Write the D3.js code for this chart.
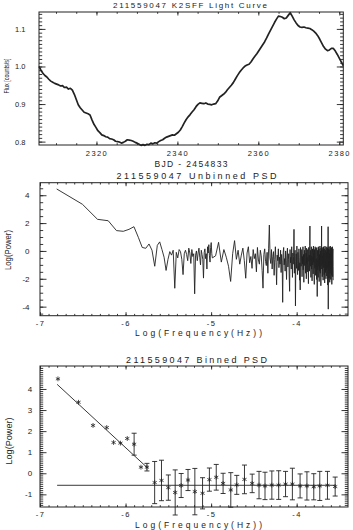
<!DOCTYPE html>
<html>
<head>
<meta charset="utf-8">
<script src="https://cdn.jsdelivr.net/npm/d3@7"></script>
<style>
body { margin: 0; background: #fff; }
svg { display: block; }
text { font-family: "Liberation Sans", Arial, sans-serif; fill: #222; }
</style>
</head>
<body>
<svg width="353" height="530"></svg>
<script>

// ---- light curve: flux (counts/s, normalised), one sample every lcStep days from lcStart
var lcStart = 2305.8, lcStep = 0.485;
var lcFlux = [
  1.000, 0.990, 0.982, 0.976, 0.972, 0.966, 0.961, 0.958, 0.955, 0.953,
  0.951, 0.948, 0.949, 0.944, 0.945, 0.940, 0.942, 0.937, 0.926, 0.912,
  0.898, 0.890, 0.884, 0.878, 0.876, 0.874, 0.871, 0.858, 0.846, 0.838,
  0.829, 0.824, 0.818, 0.816, 0.813, 0.812, 0.808, 0.807, 0.805, 0.801,
  0.800, 0.799, 0.796, 0.798, 0.801, 0.805, 0.804, 0.803, 0.801, 0.798,
  0.796, 0.793, 0.790, 0.792, 0.790, 0.793, 0.792, 0.796, 0.794, 0.797,
  0.796, 0.800, 0.803, 0.805, 0.809, 0.812, 0.814, 0.816, 0.818, 0.817,
  0.821, 0.825, 0.831, 0.840, 0.850, 0.859, 0.866, 0.872, 0.879, 0.885,
  0.893, 0.899, 0.903, 0.902, 0.901, 0.903, 0.900, 0.899, 0.898, 0.900,
  0.901, 0.908, 0.918, 0.922, 0.926, 0.931, 0.938, 0.944, 0.950, 0.957,
  0.966, 0.975, 0.983, 0.990, 0.996, 1.001, 1.004, 1.006, 1.012, 1.020,
  1.027, 1.034, 1.042, 1.050, 1.058, 1.066, 1.076, 1.087, 1.097, 1.107,
  1.117, 1.126, 1.134, 1.133, 1.131, 1.127, 1.129, 1.136, 1.143, 1.134,
  1.124, 1.116, 1.109, 1.105, 1.104, 1.105, 1.103, 1.102, 1.101, 1.098,
  1.094, 1.089, 1.082, 1.073, 1.063, 1.053, 1.046, 1.042, 1.044, 1.048,
  1.048, 1.041, 1.032, 1.022, 1.012, 1.002
];
var lcTicks = [2320, 2340, 2360, 2380];
var lcFluxTicks = [0.8, 0.9, 1.0, 1.1];

// ---- unbinned PSD: log power at harmonics k of the base frequency
var psdBaseLogF = -6.805;
// k = 1 .. 66
var psdLowPow = [
  4.45, 3.35, 2.27, 2.17, 1.46, 1.41, 1.55, 1.74, 0.98, 0.25,
  0.19, 0.50, 0.05, -1.10, 0.40, 0.65, 0.10, -0.45, -1.40, -0.60,
  -0.05, -0.30, 0.05, -2.68, -0.10, -0.50, 0.10, -0.05, -0.60, -1.70,
  -0.20, 0.05, -0.25, -0.70, 0.20, -0.15, -0.90, 0.10, -0.40, -0.20,
  -3.08, -0.30, 0.00, -0.70, -0.15, 0.20, -0.45, -1.00, 0.05, -0.25,
  -0.60, -1.95, -0.10, 0.15, -0.55, -0.20, -1.30, 0.30, -0.15, 0.45,
  -0.35, -0.80, 0.25, 0.60, -0.20, -0.50
];
// k = 72, 78, 84 ... (every 6th harmonic)
var psdHighK0 = 72, psdHighStride = 6;
var psdHighPow = [
  -0.35, 0.62, -0.80, 0.10, -0.45, -1.10, -2.19, -0.20, 0.74, -0.60,
  0.05, -0.95, -0.30, 0.20, -0.70, -1.96, -0.15, 0.30, -0.85, -0.40,
  -1.25, 0.10, -0.55, -0.20, -1.50, 0.25, -0.65, -0.95, 0.05, -0.35,
  -1.40, -2.67, -0.25, 0.15, -0.75, -1.05, -0.10, -1.60, 0.20, 1.86,
  -0.50, -0.90, 0.10, -1.30, -0.40, -0.05, -1.75, -0.60, 0.30, -0.85,
  -2.43, -0.30, -0.70, 0.15, -1.20, -0.45, -0.95, 0.05, -1.55, -0.25,
  -0.80, -3.69, -0.10, 0.25, -1.00, -0.55, -1.45, 0.00, -0.70, -2.05,
  -0.35, 0.20, -1.15, -0.60, -0.20, -1.80, -2.90, 0.10, -0.85, -0.45,
  -1.30, 0.30, -0.65, -1.90, -0.15, -0.95, -0.40, 1.55, -1.60, -0.30,
  0.05, -3.95, -0.75, -0.20, -1.25, 0.35, -0.90, -1.70, -0.10, -0.60,
  -1.40, 0.15, -0.50, -2.10, -0.85, -2.80, 0.25, -0.35, -1.10, -0.65,
  0.10, -1.85, -0.40, -0.95, 0.30, -1.35, -0.25, -2.25, -0.70, 0.05,
  -1.05, -0.50, 0.35, -1.60, -0.80, -0.15, -2.00, 0.20, -0.90, -0.45,
  -1.50, 0.10, -0.60, -1.20, -2.35, 0.25, -0.75, -0.30, -1.45, 0.40,
  1.79, -0.85, -1.10, 0.05, -1.90, -0.55, 0.30, -1.30, -0.35, -2.15,
  -0.70, 0.15, -1.00, -0.45, -1.65, 0.35, -0.80, -0.20, -1.40, -2.40,
  0.10, -0.60, -1.25, 0.30, -0.95, -1.75, -0.30, 0.20, -1.15, -0.55,
  -2.05, 0.25, -0.85, -3.27, -0.40, 0.05, -1.35, -0.70, -1.90, 0.30,
  -0.50, -1.10, 0.15, -2.20, -0.65, -0.25, -1.45, 0.35, -0.90, -1.60,
  0.00, -0.75, -2.50, 0.20, -1.05, -0.40, 1.79, -1.30, -0.60, 0.10,
  -1.85, -0.35, -0.95, 0.25, -1.50, -2.10, -0.20, 0.30, -1.20, -0.70,
  -0.15, -1.70, 0.15, -0.85, -2.30, -0.45, 0.35, -1.05, -0.60, -1.55,
  0.05, -0.90, -2.00, 0.25, -0.50, -1.35, -0.10, -1.80, 0.30, -0.75,
  -1.25, -0.30, 0.20, -2.45, -0.65, -1.10, 1.74, -4.18, -0.40, 0.15,
  -1.40, -0.80, -1.95, 0.30, -0.55, -1.15, -0.20, -2.25, 0.10, -0.90,
  -1.60, 0.35, -0.45, -1.05, -2.05, 0.20, -0.70, -1.30, -0.25, 0.25,
  -1.75, -0.60, -2.40, 0.05, -0.95, -1.20, 0.30, -0.50, -1.85, -0.35,
  0.15, -1.10, -2.10
];
var psdTicksX = [-7, -6, -5, -4];
var psdTicksY = [-4, -2, 0, 2, 4];

// ---- binned PSD
var binLogF = [-6.79, -6.55, -6.38, -6.22, -6.14, -6.06, -5.98, -5.90, -5.82, -5.75,
  -5.66, -5.58, -5.50, -5.42, -5.35, -5.27, -5.19, -5.10, -5.02, -4.94,
  -4.86, -4.77, -4.70, -4.61, -4.52, -4.44, -4.37, -4.29, -4.21, -4.13,
  -4.05, -3.96, -3.88, -3.80, -3.73, -3.64, -3.55];
var binPow = [4.48, 3.37, 2.27, 2.17, 1.46, 1.43, 1.65, 1.38, 0.29, 0.29,
  -0.44, -0.34, -0.68, -0.91, -0.58, -0.32, -0.87, -0.95, -0.30, -0.19,
  -0.48, -0.79, -0.55, -0.29, -0.48, -0.56, -0.60, -0.56, -0.56, -0.51,
  -0.51, -0.60, -0.60, -0.64, -0.60, -0.57, -0.63];
var binErr = [0, 0, 0, 0, 0, 0, 0, 0.52, 0, 0.18,
  1.00, 0.96, 0.60, 1.07, 0.57, 0.50, 1.10, 0.74, 0.55, 0.61,
  0.48, 0.82, 0.45, 0.68, 0.44, 0.65, 0.65, 0.67, 0.68, 0.60,
  0.75, 0.57, 0.67, 0.62, 0.69, 0.66, 0.45];
var fitLogF = [-6.80, -5.75], fitPow = [4.22, 0.28];
var noiseLogF = [-6.80, -3.55], noisePow = -0.57;
var binTicksY = [-1, 0, 1, 2, 3, 4];

var svg = d3.select("svg");
var ink = "#222";
var plain = function(d) { return String(d); };

// IDL style box: inward ticks on all four sides, labels bottom and left
function drawBox(p) {
  var g = svg.append("g");
  var x = p.x, y = p.y;
  var r = x.range(), h = y.range();
  var left = r[0], right = r[1], bottom = h[0], top = h[1];

  g.append("rect").attr("x", left).attr("y", top)
    .attr("width", right - left).attr("height", bottom - top)
    .attr("fill", "none").attr("stroke", ink).attr("stroke-width", 1);

  var sides = [
    [d3.axisBottom, x, bottom, true], [d3.axisTop, x, top, false]
  ];
  sides.forEach(function(s) {
    var major = s[0](s[1]).tickValues(p.xMajor).tickSize(-3.5)
      .tickPadding(p.xPad).tickFormat(s[3] ? p.xFmt : "");
    var minor = s[0](s[1]).tickValues(p.xMinor).tickSize(-1.8).tickFormat("");
    var a = g.append("g").attr("transform", "translate(0," + s[2] + ")").call(major);
    g.append("g").attr("transform", "translate(0," + s[2] + ")").call(minor);
    a.selectAll("text").attr("font-size", 7.5).style("letter-spacing", p.xSpace + "px");
  });

  var vsides = [
    [d3.axisLeft, left, true], [d3.axisRight, right, false]
  ];
  vsides.forEach(function(s) {
    var major = s[0](y).tickValues(p.yMajor).tickSize(-6.5)
      .tickPadding(p.yPad).tickFormat(s[2] ? p.yFmt : "");
    var minor = s[0](y).tickValues(p.yMinor).tickSize(-3.2).tickFormat("");
    var a = g.append("g").attr("transform", "translate(" + s[1] + ",0)").call(major);
    g.append("g").attr("transform", "translate(" + s[1] + ",0)").call(minor);
    a.selectAll("text").attr("font-size", p.ySize);
  });

  g.selectAll(".domain").remove();
  g.selectAll(".tick line").attr("stroke", ink).attr("stroke-width", 0.9);
  g.selectAll(".tick text").attr("fill", ink);

  // titles: horizontal ones spread out, the vertical one squeezed
  g.append("text").attr("x", p.title[1]).attr("y", p.title[2])
    .attr("text-anchor", "middle").attr("font-size", p.title[3])
    .attr("textLength", p.title[4]).attr("lengthAdjust", "spacing")
    .text(p.title[0]);
  g.append("text").attr("x", p.xTitle[1]).attr("y", p.xTitle[2])
    .attr("text-anchor", "middle").attr("font-size", p.xTitle[3])
    .attr("textLength", p.xTitle[4]).attr("lengthAdjust", "spacing")
    .text(p.xTitle[0]);
  g.append("text")
    .attr("transform", "translate(" + p.yTitle[1] + "," + p.yTitle[2] + ") rotate(-90)")
    .attr("text-anchor", "middle").attr("dy", "0.35em").attr("font-size", p.yTitle[3])
    .attr("textLength", p.yTitle[4]).attr("lengthAdjust", "spacingAndGlyphs")
    .text(p.yTitle[0]);
  return g;
}

// ---------- panel 1: light curve
var x1 = d3.scaleLinear().domain([2305.8, 2381.0]).range([39, 343.3]);
var y1 = d3.scaleLinear().domain([0.791, 1.145]).range([145, 12]);

var lcLine = d3.line()
  .x(function(d, i) { return x1(lcStart + i * lcStep); })
  .y(function(d) { return y1(d); });
svg.append("path").datum(lcFlux).attr("d", lcLine)
  .attr("fill", "none").attr("stroke", ink).attr("stroke-width", 1.7)
  .attr("stroke-linejoin", "round");

drawBox({
  x: x1, y: y1,
  xMajor: lcTicks, xMinor: d3.range(2310, 2381, 5),
  yMajor: lcFluxTicks, yMinor: d3.range(0.80, 1.145, 0.01),
  xFmt: plain, yFmt: d3.format(".1f"), xPad: 5.8, xSpace: 1.4, yPad: 13.5, ySize: 7.5,
  title: ["211559047 K2SFF  Light Curve", 190, 7.6, 8, 154],
  xTitle: ["BJD - 2454833", 191, 166.5, 8.5, 73],
  yTitle: ["Flux [counts/s]", 6.5, 76, 7.5, 35]
});

// ---------- panel 2: unbinned PSD
var x2 = d3.scaleLinear().domain([-7, -3.4]).range([40, 348]);
var y2 = d3.scaleLinear().domain([-4.65, 4.9]).range([315.7, 182.7]);

var psdPts = psdLowPow.map(function(v, i) {
  return [psdBaseLogF + Math.log10(i + 1), v];
}).concat(psdHighPow.map(function(v, j) {
  return [psdBaseLogF + Math.log10(psdHighK0 + j * psdHighStride), v];
}));
svg.append("path").datum(psdPts)
  .attr("d", d3.line().x(function(d) { return x2(d[0]); }).y(function(d) { return y2(d[1]); }))
  .attr("fill", "none").attr("stroke", ink).attr("stroke-width", 0.9)
  .attr("stroke-linejoin", "round");

drawBox({
  x: x2, y: y2,
  xMajor: psdTicksX, xMinor: d3.range(-6.9, -3.41, 0.1),
  yMajor: psdTicksY, yMinor: d3.range(-4.5, 4.9, 0.5),
  xFmt: plain, yFmt: plain, xPad: 4.5, xSpace: 1.5, yPad: 10.5, ySize: 8,
  title: ["211559047 Unbinned PSD", 196.5, 179, 9, 160],
  xTitle: ["Log(Frequency(Hz))", 198.5, 336, 8.5, 127],
  yTitle: ["Log(Power)", 7.5, 250, 9, 40]
});

// ---------- panel 3: binned PSD
var x3 = d3.scaleLinear().domain([-7, -3.4]).range([40, 348]);
var y3 = d3.scaleLinear().domain([-1.6, 5.09]).range([507, 366]);

var fitPts = fitLogF.map(function(f, i) { return [f, fitPow[i]]; });
var lineFn = d3.line().x(function(d) { return x3(d[0]); }).y(function(d) { return y3(d[1]); });
svg.append("path").datum(fitPts).attr("d", lineFn)
  .attr("fill", "none").attr("stroke", ink).attr("stroke-width", 0.9);
svg.append("path").datum(noiseLogF.map(function(f) { return [f, noisePow]; })).attr("d", lineFn)
  .attr("fill", "none").attr("stroke", ink).attr("stroke-width", 0.9);

var bins = binLogF.map(function(f, i) { return { f: f, p: binPow[i], e: binErr[i] }; });
var bar = svg.append("g").selectAll("g").data(bins.filter(function(d) { return d.e > 0; }))
  .enter().append("g").attr("stroke", ink).attr("stroke-width", 0.9);
bar.append("line")
  .attr("x1", function(d) { return x3(d.f); }).attr("x2", function(d) { return x3(d.f); })
  .attr("y1", function(d) { return y3(d.p + d.e); }).attr("y2", function(d) { return y3(d.p - d.e); });
[1, -1].forEach(function(sgn) {
  bar.append("line")
    .attr("x1", function(d) { return x3(d.f) - 2.5; }).attr("x2", function(d) { return x3(d.f) + 2.5; })
    .attr("y1", function(d) { return y3(d.p + sgn * d.e); }).attr("y2", function(d) { return y3(d.p + sgn * d.e); });
});

svg.append("g").selectAll("path").data(bins).enter().append("path")
  .attr("d", d3.symbol().type(d3.symbolAsterisk).size(16))
  .attr("transform", function(d) { return "translate(" + x3(d.f) + "," + y3(d.p) + ")"; })
  .attr("fill", "none").attr("stroke", ink).attr("stroke-width", 0.8);

drawBox({
  x: x3, y: y3,
  xMajor: psdTicksX, xMinor: d3.range(-6.9, -3.41, 0.1),
  yMajor: binTicksY, yMinor: d3.range(-1.5, 5.05, 0.1),
  xFmt: plain, yFmt: plain, xPad: 4.8, xSpace: 1.5, yPad: 7.8, ySize: 8,
  title: ["211559047 Binned PSD", 196.5, 362.5, 9, 141],
  xTitle: ["Log(Frequency(Hz))", 198.5, 527.5, 8.5, 127],
  yTitle: ["Log(Power)", 9, 441, 9.5, 47]
});

</script>
</body>
</html>
